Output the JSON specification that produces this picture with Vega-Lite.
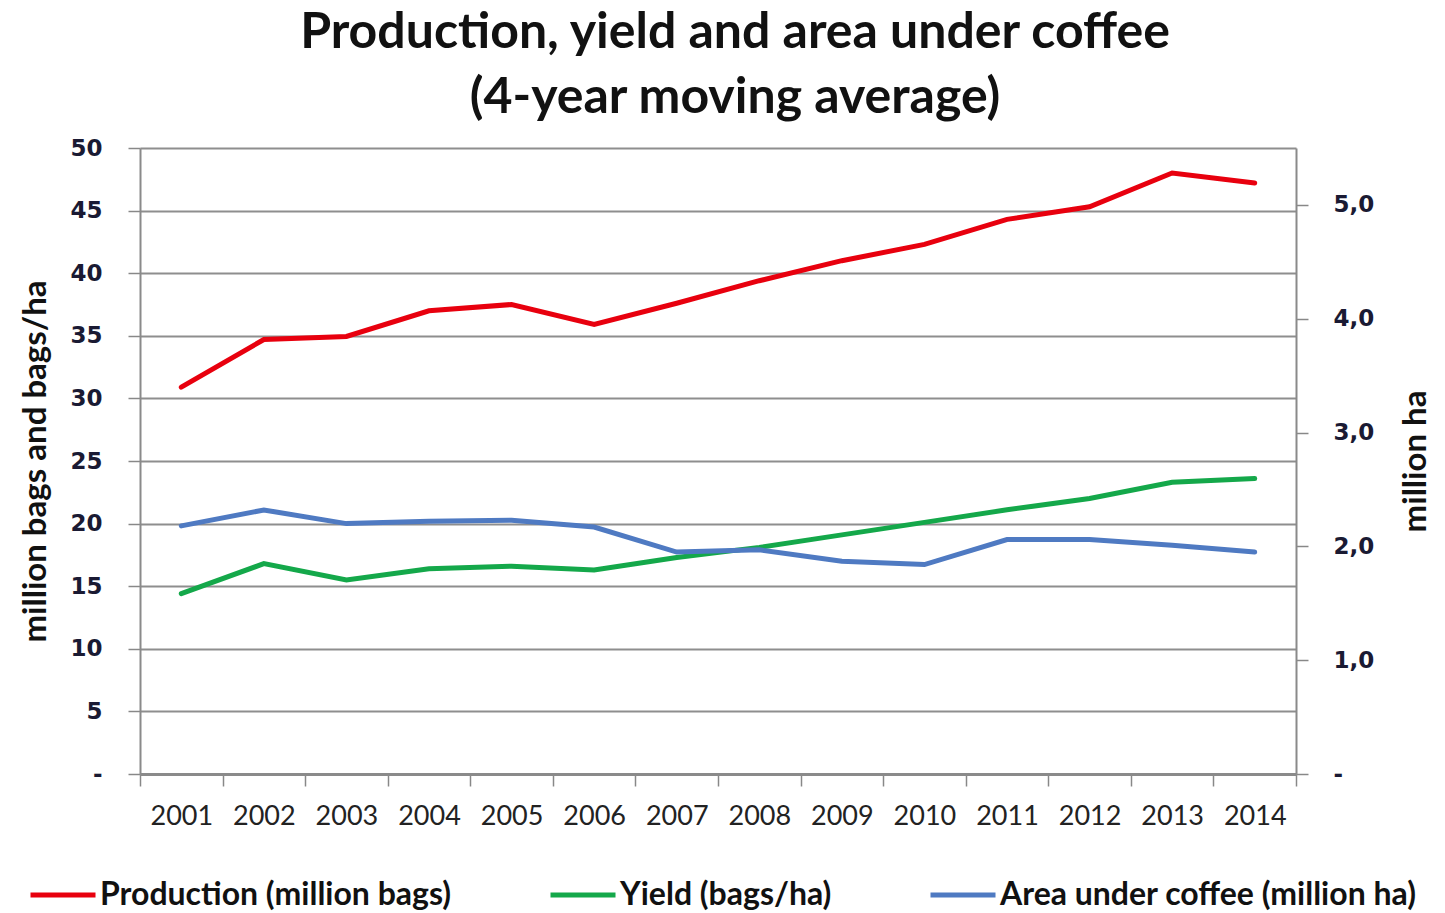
{
  "$schema": "https://vega.github.io/schema/vega-lite/v6.json",
  "width": 1156,
  "height": 626,
  "autosize": {"type": "none"},
  "padding": {"left": 140, "top": 148, "right": 149, "bottom": 139},
  "background": "white",
  "title": {
    "text": ["Production, yield and area under coffee", "(4-year moving average)"],
    "font": "Lato",
    "fontSize": 50,
    "fontWeight": "bold",
    "color": "#111111",
    "anchor": "middle",
    "dx": 17,
    "lineHeight": 65,
    "offset": 14
  },
  "data": {
    "values": [
      {"year": "2001", "series": "Production (million bags)", "value": 30.9},
      {"year": "2002", "series": "Production (million bags)", "value": 34.7},
      {"year": "2003", "series": "Production (million bags)", "value": 34.95},
      {"year": "2004", "series": "Production (million bags)", "value": 37.0},
      {"year": "2005", "series": "Production (million bags)", "value": 37.5},
      {"year": "2006", "series": "Production (million bags)", "value": 35.9},
      {"year": "2007", "series": "Production (million bags)", "value": 37.6},
      {"year": "2008", "series": "Production (million bags)", "value": 39.4},
      {"year": "2009", "series": "Production (million bags)", "value": 41.0},
      {"year": "2010", "series": "Production (million bags)", "value": 42.3},
      {"year": "2011", "series": "Production (million bags)", "value": 44.3},
      {"year": "2012", "series": "Production (million bags)", "value": 45.3},
      {"year": "2013", "series": "Production (million bags)", "value": 48.0},
      {"year": "2014", "series": "Production (million bags)", "value": 47.2},
      {"year": "2001", "series": "Yield (bags/ha)", "value": 14.4},
      {"year": "2002", "series": "Yield (bags/ha)", "value": 16.8},
      {"year": "2003", "series": "Yield (bags/ha)", "value": 15.5},
      {"year": "2004", "series": "Yield (bags/ha)", "value": 16.4},
      {"year": "2005", "series": "Yield (bags/ha)", "value": 16.6},
      {"year": "2006", "series": "Yield (bags/ha)", "value": 16.3},
      {"year": "2007", "series": "Yield (bags/ha)", "value": 17.3},
      {"year": "2008", "series": "Yield (bags/ha)", "value": 18.1},
      {"year": "2009", "series": "Yield (bags/ha)", "value": 19.1},
      {"year": "2010", "series": "Yield (bags/ha)", "value": 20.1},
      {"year": "2011", "series": "Yield (bags/ha)", "value": 21.1},
      {"year": "2012", "series": "Yield (bags/ha)", "value": 22.0},
      {"year": "2013", "series": "Yield (bags/ha)", "value": 23.3},
      {"year": "2014", "series": "Yield (bags/ha)", "value": 23.6},
      {"year": "2001", "series": "Area under coffee (million ha)", "value": 2.18},
      {"year": "2002", "series": "Area under coffee (million ha)", "value": 2.32},
      {"year": "2003", "series": "Area under coffee (million ha)", "value": 2.20},
      {"year": "2004", "series": "Area under coffee (million ha)", "value": 2.22},
      {"year": "2005", "series": "Area under coffee (million ha)", "value": 2.23},
      {"year": "2006", "series": "Area under coffee (million ha)", "value": 2.17},
      {"year": "2007", "series": "Area under coffee (million ha)", "value": 1.95},
      {"year": "2008", "series": "Area under coffee (million ha)", "value": 1.97},
      {"year": "2009", "series": "Area under coffee (million ha)", "value": 1.87},
      {"year": "2010", "series": "Area under coffee (million ha)", "value": 1.84},
      {"year": "2011", "series": "Area under coffee (million ha)", "value": 2.06},
      {"year": "2012", "series": "Area under coffee (million ha)", "value": 2.06},
      {"year": "2013", "series": "Area under coffee (million ha)", "value": 2.01},
      {"year": "2014", "series": "Area under coffee (million ha)", "value": 1.95}
    ]
  },
  "encoding": {
    "x": {
      "field": "year",
      "type": "ordinal",
      "bandPosition": 0.5,
      "scale": {"type": "band", "paddingInner": 0, "paddingOuter": 0},
      "axis": {
        "title": null,
        "labelAngle": 0,
        "labelFont": "Lato",
        "labelFontSize": 27,
        "labelColor": "#222222",
        "labelPadding": 17,
        "tickBand": "extent",
        "tickSize": 12,
        "tickColor": "#888888",
        "tickWidth": 1.5,
        "domainColor": "#8a8a8a",
        "domainWidth": 3,
        "grid": false
      }
    },
    "color": {
      "field": "series",
      "type": "nominal",
      "scale": {
        "domain": ["Production (million bags)", "Yield (bags/ha)", "Area under coffee (million ha)"],
        "range": ["#e8000e", "#14a84a", "#4f7ac2"]
      },
      "legend": {
        "title": null,
        "orient": "none",
        "direction": "horizontal",
        "legendX": -112,
        "legendY": 712,
        "symbolType": "stroke",
        "symbolSize": 4225,
        "symbolStrokeWidth": 5,
        "labelFont": "Lato",
        "labelFontSize": 32,
        "labelFontWeight": "bold",
        "labelColor": "#111111",
        "labelOffset": 2,
        "columnPadding": 88,
        "labelLimit": 600
      }
    }
  },
  "layer": [
    {
      "transform": [{"filter": "datum.series != 'Area under coffee (million ha)'"}],
      "mark": {"type": "line", "strokeWidth": 5, "strokeCap": "round"},
      "encoding": {
        "y": {
          "field": "value",
          "type": "quantitative",
          "scale": {"domain": [0, 50], "nice": false},
          "axis": {
            "title": "million bags and bags/ha",
            "titleFont": "Lato",
            "titleFontSize": 33,
            "titleFontWeight": "bold",
            "titleColor": "#111111",
            "titleAngle": -90,
            "titleBaseline": "middle",
            "titleAlign": "center",
            "titleX": -105,
            "titleY": 313,
            "values": [0, 5, 10, 15, 20, 25, 30, 35, 40, 45, 50],
            "labelExpr": "datum.value == 0 ? '-' : datum.label",
            "labelFont": "DejaVu Sans",
            "labelFontSize": 23,
            "labelFontWeight": "bold",
            "labelColor": "#1a1a33",
            "labelPadding": 26,
            "tickSize": 12,
            "tickColor": "#888888",
            "tickWidth": 1.5,
            "domainColor": "#8a8a8a",
            "domainWidth": 2,
            "grid": true,
            "gridColor": "#8e8e8e",
            "gridWidth": 2
          }
        }
      }
    },
    {
      "transform": [{"filter": "datum.series == 'Area under coffee (million ha)'"}],
      "mark": {"type": "line", "strokeWidth": 5, "strokeCap": "round"},
      "encoding": {
        "y": {
          "field": "value",
          "type": "quantitative",
          "scale": {"domain": [0, 5.5], "nice": false},
          "axis": {
            "orient": "right",
            "title": "million ha",
            "titleFont": "Lato",
            "titleFontSize": 33,
            "titleFontWeight": "bold",
            "titleColor": "#111111",
            "titleAngle": -90,
            "titleBaseline": "middle",
            "titleAlign": "center",
            "titleX": 119,
            "titleY": 313,
            "values": [0, 1, 2, 3, 4, 5],
            "labelExpr": "datum.value == 0 ? '-' : replace(format(datum.value, '.1f'), '.', ',')",
            "labelFont": "DejaVu Sans",
            "labelFontSize": 23,
            "labelFontWeight": "bold",
            "labelColor": "#1a1a33",
            "labelPadding": 25,
            "tickSize": 12,
            "tickColor": "#888888",
            "tickWidth": 1.5,
            "domainColor": "#8a8a8a",
            "domainWidth": 2,
            "grid": false
          }
        }
      }
    }
  ],
  "resolve": {"scale": {"y": "independent"}},
  "config": {
    "view": {"stroke": null}
  }
}
